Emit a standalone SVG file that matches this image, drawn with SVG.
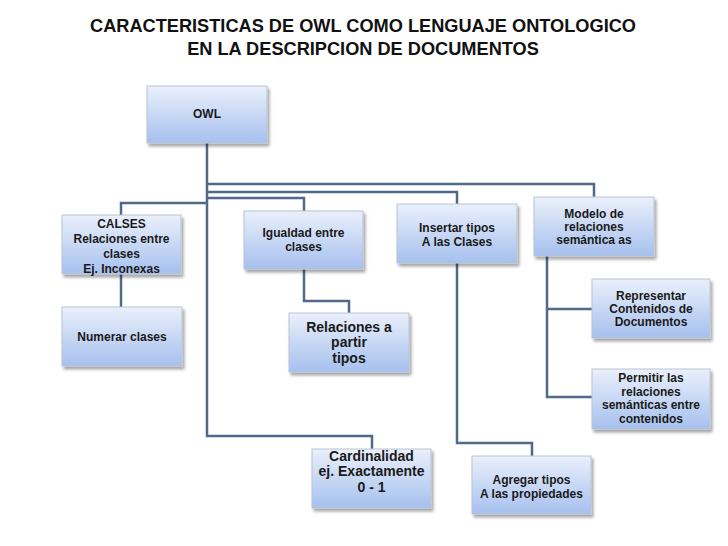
<svg xmlns="http://www.w3.org/2000/svg" width="728" height="546" viewBox="0 0 728 546">
<defs>
<linearGradient id="g" x1="0" y1="0" x2="0" y2="1">
<stop offset="0" stop-color="#eaf0fb"/>
<stop offset="1" stop-color="#a6c0ee"/>
</linearGradient>
<filter id="sh" x="-10%" y="-10%" width="125%" height="130%">
<feDropShadow dx="2" dy="3" stdDeviation="1.8" flood-color="#000" flood-opacity="0.35"/>
</filter>
<style>
.box{fill:url(#g);stroke:#b9c3d3;stroke-width:1;filter:url(#sh)}
.t{font-family:"Liberation Sans",Arial,sans-serif;font-weight:bold;font-size:12px;fill:#1a1a1a;text-anchor:middle}
.big{font-size:14px}
.title{font-family:"Liberation Sans",Arial,sans-serif;font-weight:bold;font-size:18.2px;fill:#111;text-anchor:middle}
.c{fill:none;stroke:#4f6a8a;stroke-width:2.5}
</style>
</defs>
<rect width="728" height="546" fill="#ffffff"/>
<g id="title">
<text class="title" x="363" y="32">CARACTERISTICAS DE OWL COMO LENGUAJE ONTOLOGICO</text>
<text class="title" x="363" y="55">EN LA DESCRIPCION DE DOCUMENTOS</text>
</g>
<g id="connectors">
<path class="c" d="M207 143 V436 H372 V449"/>
<path class="c" d="M207 184 H594 V197"/>
<path class="c" d="M207 192 H457 V204"/>
<path class="c" d="M207 198 H304 V211"/>
<path class="c" d="M207 203 H121 V215"/>
<path class="c" d="M121 274 V307"/>
<path class="c" d="M304 269 V301 H349 V313"/>
<path class="c" d="M457 263 V443 H532 V456"/>
<path class="c" d="M547 256 V397 H592"/>
<path class="c" d="M547 309 H592"/>
</g>
<g id="owl">
<rect class="box" x="147" y="86" width="120" height="57"/>
<text class="t" x="207" y="118">OWL</text>
</g>
<g id="calses">
<rect class="box" x="62" y="215" width="119" height="59"/>
<text class="t" x="121.5" y="228">CALSES</text>
<text class="t" x="121.5" y="243">Relaciones entre</text>
<text class="t" x="121.5" y="258">clases</text>
<text class="t" x="121.5" y="273">Ej. Inconexas</text>
</g>
<g id="igualdad">
<rect class="box" x="244" y="211" width="119" height="58"/>
<text class="t" x="303.5" y="237">Igualdad entre</text>
<text class="t" x="303.5" y="251">clases</text>
</g>
<g id="insertar">
<rect class="box" x="397" y="204" width="120" height="59"/>
<text class="t" x="457" y="232">Insertar tipos</text>
<text class="t" x="457" y="246">A las Clases</text>
</g>
<g id="modelo">
<rect class="box" x="534" y="197" width="120" height="59"/>
<text class="t" x="594" y="218">Modelo de</text>
<text class="t" x="594" y="231">relaciones</text>
<text class="t" x="594" y="244">semántica as</text>
</g>
<g id="numerar">
<rect class="box" x="62" y="307" width="120" height="59"/>
<text class="t" x="122" y="341">Numerar clases</text>
</g>
<g id="relaciones">
<rect class="box" x="289" y="313" width="120" height="59"/>
<text class="t big" x="349" y="332">Relaciones a</text>
<text class="t big" x="349" y="347">partir</text>
<text class="t big" x="349" y="363">tipos</text>
</g>
<g id="representar">
<rect class="box" x="592" y="279" width="118" height="59"/>
<text class="t" x="651" y="300">Representar</text>
<text class="t" x="651" y="313">Contenidos de</text>
<text class="t" x="651" y="326">Documentos</text>
</g>
<g id="permitir">
<rect class="box" x="592" y="369" width="118" height="60"/>
<text class="t" x="651" y="382">Permitir las</text>
<text class="t" x="651" y="395.5">relaciones</text>
<text class="t" x="651" y="409">semánticas entre</text>
<text class="t" x="651" y="422.5">contenidos</text>
</g>
<g id="cardinalidad">
<rect class="box" x="312" y="449" width="119" height="59"/>
<text class="t big" x="371.5" y="461">Cardinalidad</text>
<text class="t big" x="371.5" y="476">ej. Exactamente</text>
<text class="t big" x="371.5" y="492">0 - 1</text>
</g>
<g id="agregar">
<rect class="box" x="472" y="456" width="119" height="58"/>
<text class="t" x="531.5" y="484">Agregar tipos</text>
<text class="t" x="531.5" y="498">A las propiedades</text>
</g>
</svg>
